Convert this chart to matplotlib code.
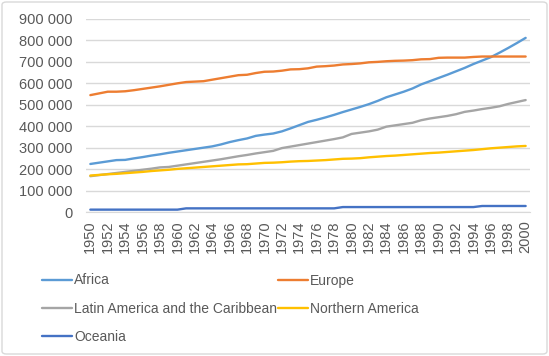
import matplotlib.pyplot as plt
from matplotlib.patches import FancyBboxPatch
import numpy as np

plt.rcParams['font.family'] = ['Liberation Sans', 'DejaVu Sans']

years = list(range(1950, 2001))

# population, thousands
africa = [224, 230, 236, 242, 243, 250, 256, 263, 269, 276,
          282, 288, 294, 300, 306, 315, 326, 335, 343, 355,
          361, 366, 376, 390, 405, 420, 430, 441, 453, 466,
          478, 490, 503, 518, 535, 548, 561, 576, 595, 610,
          625, 640, 656, 672, 690, 706, 722, 743, 765, 788,
          812]
europe = [545, 553, 561, 561, 563, 568, 574, 580, 586, 593,
          600, 606, 608, 610, 617, 624, 631, 638, 640, 648,
          654, 655, 659, 665, 666, 670, 678, 680, 683, 688,
          690, 693, 698, 700, 703, 705, 706, 708, 712, 713,
          719, 720, 720, 720, 723, 725, 725, 725, 725, 725,
          725]
latin_america = [167, 172, 177, 182, 187, 192, 197, 202, 208, 210,
                 216, 222, 228, 234, 240, 246, 253, 260, 266, 273,
                 279, 285, 298, 305, 312, 319, 326, 333, 340, 348,
                 364, 370, 376, 384, 398, 404, 410, 416, 428, 436,
                 442, 448, 456, 467, 473, 480, 486, 493, 504, 513,
                 522]
northern_america = [170, 173, 176, 178, 181, 184, 187, 191, 194, 197,
                    201, 204, 207, 210, 213, 216, 219, 222, 223, 226,
                    229, 230, 232, 235, 237, 238, 240, 242, 245, 248,
                    249, 251, 255, 258, 261, 263, 266, 269, 272, 275,
                    277, 280, 283, 286, 289, 293, 297, 300, 303, 306,
                    308]
oceania = [11] * 11 + [17] * 18 + [23] * 16 + [28] * 6

series = [
    ("Africa", africa, "#5B9BD5"),
    ("Europe", europe, "#ED7D31"),
    ("Latin America and the Caribbean", latin_america, "#A5A5A5"),
    ("Northern America", northern_america, "#FFC000"),
    ("Oceania", oceania, "#4472C4"),
]

fig = plt.figure(figsize=(5.49, 3.56), dpi=100)
ax = fig.add_axes([86 / 549, 1 - 212 / 356, 444 / 549, 193 / 356])

x = np.arange(len(years))
lines = []
for name, vals, color in series:
    ln, = ax.plot(x, np.array(vals) * 1000, color=color, lw=1.7, label=name,
                  solid_capstyle="round")
    lines.append(ln)

ax.set_xlim(-0.5, len(years) - 0.5)
ax.set_ylim(0, 900000)
ax.set_yticks(range(0, 900001, 100000))
ax.set_yticklabels([f"{v:,}".replace(",", " ") for v in range(0, 900001, 100000)])
ax.set_xticks(x[::2])
ax.set_xticklabels([str(y) for y in years[::2]], rotation=90)
ax.tick_params(length=0, labelsize=10.5, labelcolor="#595959")
ax.tick_params(axis="y", pad=9.5)
ax.tick_params(axis="x", pad=6)
ax.grid(axis="y", color="#D9D9D9", lw=1)
ax.set_axisbelow(True)
for s in ["top", "right", "left"]:
    ax.spines[s].set_visible(False)
ax.spines["bottom"].set_color("#D9D9D9")

# legend is filled column by column, so reorder to read row by row
order = [0, 2, 4, 1, 3]
fig.legend([lines[i] for i in order], [series[i][0] for i in order],
           loc="upper left", bbox_to_anchor=(42.5 / 549, 1 - 273.5 / 356),
           ncol=2, frameon=False, fontsize=10, labelcolor="#595959",
           handlelength=2.1, handletextpad=0.17, columnspacing=0.1,
           labelspacing=1.01, borderpad=0, borderaxespad=0)

border = FancyBboxPatch((2 / 549, 2 / 356), 545 / 549, 352 / 356,
                        boxstyle="round,pad=0,rounding_size=0.008",
                        transform=fig.transFigure, fill=False,
                        ec="#D9D9D9", lw=1)
fig.patches.append(border)

fig.savefig("out.png", dpi=100)
